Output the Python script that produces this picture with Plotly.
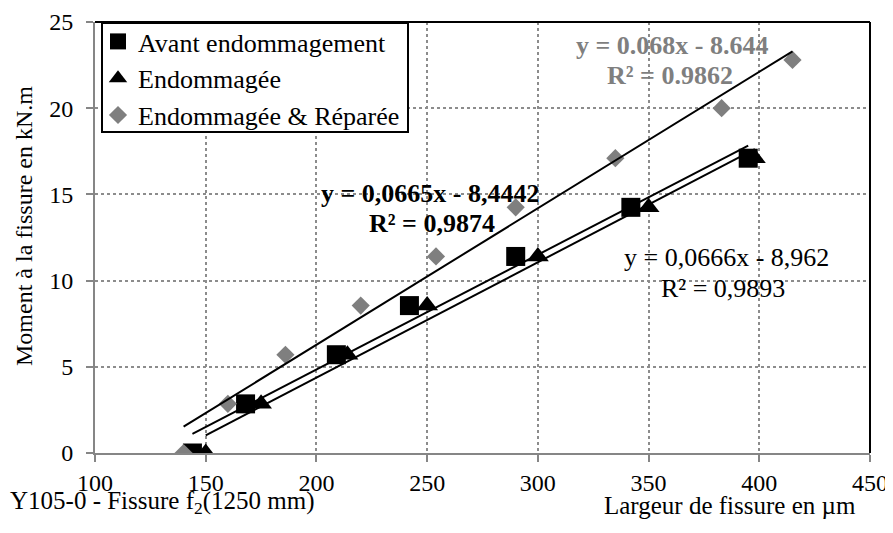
import numpy as np
import plotly.graph_objects as go

# ---- data ----
series_names = ["Avant endommagement", "Endommagée", "Endommagée & Réparée"]
x_avant = [144, 168, 209, 242, 290, 342, 395]
y_avant = [0, 2.85, 5.7, 8.55, 11.4, 14.25, 17.1]
x_endo = [150, 175, 214, 250, 300, 350, 398]
y_endo = [0, 2.85, 5.7, 8.55, 11.4, 14.25, 17.1]
x_rep = [140, 160, 186, 220, 254, 290, 335, 383, 415]
y_rep = [0, 2.85, 5.7, 8.55, 11.4, 14.25, 17.1, 20, 22.8]
x_ticks = [100, 150, 200, 250, 300, 350, 400, 450]
y_ticks = [0, 5, 10, 15, 20, 25]
eq_rep = ["y = 0.068x - 8.644", "R² = 0.9862"]
eq_avant = ["y = 0,0665x - 8,4442", "R² = 0,9874"]
eq_endo = ["y = 0,0666x - 8,962", "R² = 0,9893"]
title_text = "Y105-0 - Fissure f<sub>2</sub>(1250 mm)"
x_title = "Largeur de fissure en µm"
y_title = "Moment à la fissure en kN.m"

FONT = "Times New Roman"
OFF = 8  # page body margin
W, H = 893 - OFF, 533 - OFF
# plot area in screenshot pixels: x 95..870, y 22..453
PL, PR, PT, PB = 95, 870, 22, 453
L, T = PL - OFF, PT - OFF
R = W - (PR - OFF)
B = H - (PB - OFF)
PW, PH = PR - PL, PB - PT

def px(xp):
    return (xp - PL) / PW

def py(yp):
    return (PB - yp) / PH

fig = go.Figure()

styles = [
    dict(symbol="square", color="black", size=19),
    dict(symbol="triangle-up", color="black", size=19),
    dict(symbol="diamond", color="#7f7f7f", size=14),
]
data = [(x_avant, y_avant), (x_endo, y_endo), (x_rep, y_rep)]

for name, (xs, ys), st in zip(series_names, data, styles):
    fig.add_trace(go.Scatter(
        x=xs, y=ys, mode="markers", name=name,
        marker=dict(symbol=st["symbol"], color=st["color"], size=st["size"],
                    line=dict(width=0)),
    ))

# linear trendlines computed from the data
for xs, ys in data:
    a, b = np.polyfit(xs, ys, 1)
    xx = np.array([min(xs), max(xs)])
    fig.add_trace(go.Scatter(
        x=xx, y=a * xx + b, mode="lines", showlegend=False,
        line=dict(color="black", width=2), hoverinfo="skip",
    ))

def ann(text, xp, yp, size=26, color="black", bold=False, xanchor="center", **kw):
    t = f"<b>{text}</b>" if bold else text
    fig.add_annotation(text=t, x=px(xp), y=py(yp), xref="paper", yref="paper",
                       xanchor=xanchor, yanchor="middle",
                       showarrow=False, font=dict(family=FONT, size=size, color=color),
                       **kw)

ann(eq_rep[0], 672, 45, color="#7f7f7f", bold=True)
ann(eq_rep[1], 670, 75, color="#7f7f7f", bold=True)
ann(eq_avant[0], 430, 193, bold=True)
ann(eq_avant[1], 432, 223, bold=True)
ann(eq_endo[0], 726, 258)
ann(eq_endo[1], 723, 288)

ann(title_text, 8, 503, size=25, xanchor="left")
ann(x_title, 858, 505, size=25, xanchor="right")
ann(y_title, 24, 226, size=24, textangle=-90)

# black plot-area border on top and right
fig.add_shape(type="line", xref="paper", yref="paper", x0=0, x1=1, y0=1, y1=1,
              line=dict(color="black", width=2))
fig.add_shape(type="line", xref="paper", yref="paper", x0=1, x1=1, y0=0, y1=1,
              line=dict(color="black", width=2))
# legend frame
fig.add_shape(type="rect", xref="paper", yref="paper", layer="above",
              x0=px(102), x1=px(408), y0=py(132), y1=py(23),
              line=dict(color="black", width=2), fillcolor="white")

axis_common = dict(
    showline=True, linecolor="#868686", linewidth=2,
    ticks="outside", ticklen=7, tickcolor="#868686", tickwidth=2,
    showgrid=True, gridcolor="#8c8c8c", gridwidth=1.5, griddash="dot",
    zeroline=False, tickfont=dict(family=FONT, size=24, color="black"),
)

fig.update_xaxes(range=[100, 450], tickvals=x_ticks, ticktext=[str(v) for v in x_ticks],
                 **axis_common)
fig.update_yaxes(range=[0, 25], tickvals=y_ticks, ticktext=[str(v) for v in y_ticks],
                 ticklabelstandoff=8, **axis_common)

fig.update_layout(
    width=W, height=H,
    margin=dict(l=L, r=R, t=T, b=B, autoexpand=False),
    paper_bgcolor="white", plot_bgcolor="white",
    font=dict(family=FONT, size=24, color="black"),
    showlegend=True,
    legend=dict(x=px(98), y=py(18), xanchor="left", yanchor="top",
                bgcolor="rgba(0,0,0,0)", borderwidth=0,
                font=dict(family=FONT, size=26, color="black"),
                itemwidth=30, tracegroupgap=0),
)

fig.write_html("out.html")
